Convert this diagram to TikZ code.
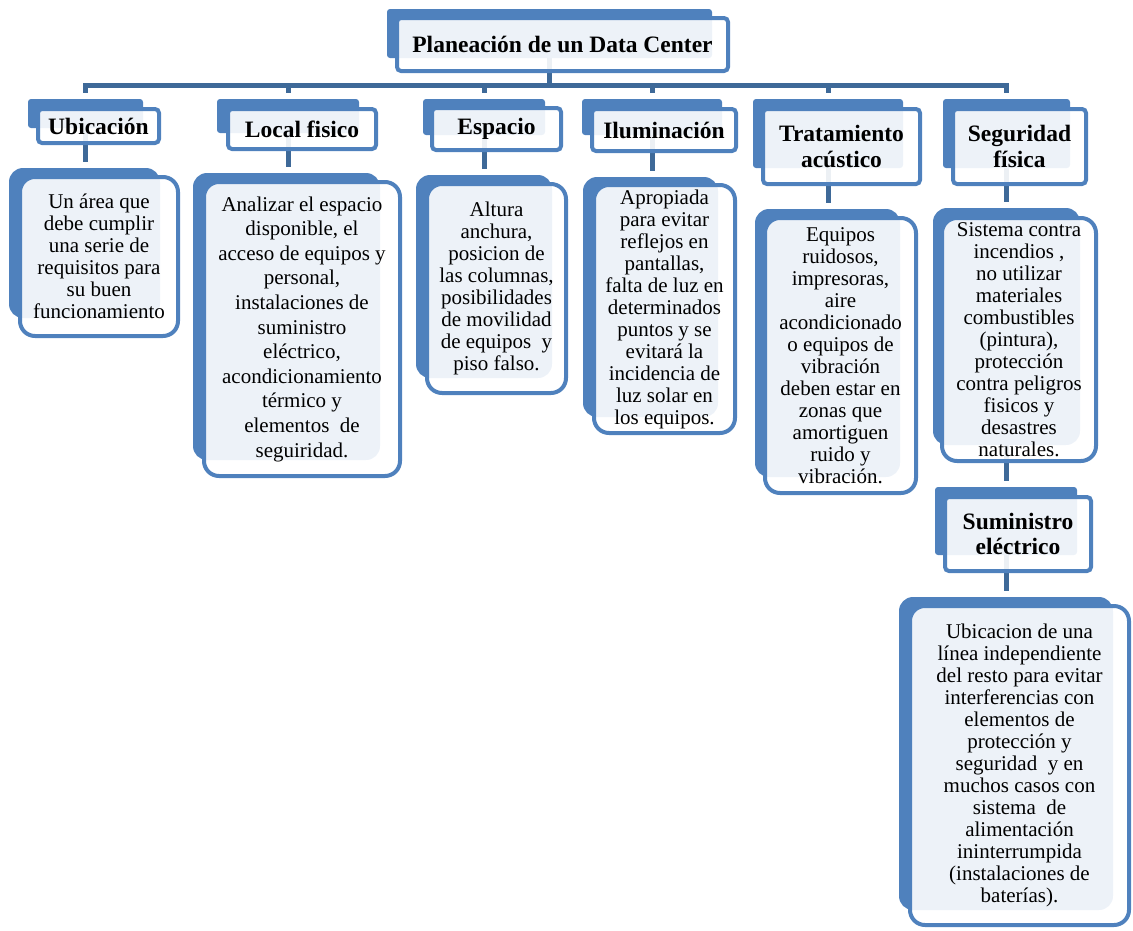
\documentclass[tikz,border=0pt]{standalone}
\usepackage{fontspec}
\setmainfont{Liberation Serif}
\usetikzlibrary{fit}
\definecolor{boxblue}{HTML}{4F81BD}
\definecolor{linkblue}{HTML}{3E6998}
\pgfdeclarelayer{bg}
\pgfsetlayers{bg,main}
\newcommand\headfont{\fontsize{23.5}{25.5}\selectfont\bfseries}
\newcommand\bodyfont{\fontsize{21}{22}\selectfont}

\begin{document}
\begin{tikzpicture}[x=1pt,y=-1pt,
  hback/.style={inner sep=0pt, outer sep=0pt, fill=boxblue, draw=none, rounded corners=3pt},
  hfront/.style={inner sep=0pt, outer sep=0pt, draw=boxblue, line width=4pt,
                 fill=white, fill opacity=0.9, text opacity=1, rounded corners=4pt},
  cback/.style={inner sep=0pt, outer sep=0pt, fill=boxblue, draw=none, rounded corners=14pt},
  cfront/.style={inner sep=0pt, outer sep=0pt, draw=boxblue, line width=4pt,
                 fill=white, fill opacity=0.9, text opacity=1, rounded corners=15pt},
  htext/.style={font=\headfont, align=center, inner sep=0pt},
  btext/.style={font=\bodyfont, align=center, inner sep=0pt},
  link/.style={draw=linkblue, line width=5pt, shorten >=6pt}]
\useasboundingbox (0,0) rectangle (1133,930);

% root
\node[hback, fit={(387,9) (712,58)}] (title-b) {};
\node[hfront, fit={(397,18) (728,71)}] (title) {};
\node[htext] (title-t) at (title.center) {Planeación de un Data Center};

% Ubicación
\node[hback, fit={(28,99) (143,128)}] (ubi-b) {};
\node[hfront, fit={(38,109) (159,143)}] (ubi) {};
\node[htext] (ubi-t) at (ubi.center) {Ubicación};
\node[cback, fit={(9,168) (160,318)}] (ubic-b) {};
\node[cfront, fit={(20,177) (178,336)}] (ubic) {};
\node[btext] (ubic-t) at (ubic.center) {Un área que\\debe cumplir\\una serie de\\requisitos para\\su buen\\funcionamiento};

% Local fisico
\node[hback, fit={(217,99) (359,133)}] (loc-b) {};
\node[hfront, fit={(228,109) (376,149)}] (loc) {};
\node[htext] (loc-t) at (loc.center) {Local fisico};
\node[cback, fit={(193,173) (380,460)}] (locc-b) {};
\node[cfront, fit={(204,182) (400,476)}] (locc) {};
\node[btext, font=\fontsize{21}{24.6}\selectfont] (locc-t) at (locc.center)
  {Analizar el espacio\\disponible, el\\acceso de equipos y\\personal,\\instalaciones de\\suministro\\eléctrico,\\acondicionamiento\\térmico y\\elementos~ de\\seguiridad.};

% Espacio
\node[hback, fit={(423,99) (545,135)}] (esp-b) {};
\node[hfront, fit={(432,108) (561,150)}] (esp) {};
\node[htext] (esp-t) at (esp.center) {Espacio};
\node[cback, fit={(416,175) (552,378)}] (espc-b) {};
\node[cfront, fit={(427,184) (566,393)}] (espc) {};
\node[btext] (espc-t) at (espc.center)
  {Altura\\anchura,\\posicion de\\las columnas,\\posibilidades\\de movilidad\\de equipos~ y\\piso falso.};

% Iluminación
\node[hback, fit={(582,99) (722,135)}] (ilu-b) {};
\node[hfront, fit={(592,109) (736,151)}] (ilu) {};
\node[htext] (ilu-t) at (ilu.center) {Iluminación};
\node[cback, fit={(583,177) (718,417)}] (iluc-b) {};
\node[cfront, fit={(594,185) (735,433)}] (iluc) {};
\node[btext] (iluc-t) at (iluc.center)
  {Apropiada\\para evitar\\reflejos en\\pantallas,\\falta de luz en\\determinados\\puntos y se\\evitará la\\incidencia de\\luz solar en\\los equipos.};

% Tratamiento acústico
\node[hback, fit={(753,99) (903,168)}] (tra-b) {};
\node[hfront, fit={(763,109) (920,184)}] (tra) {};
\node[htext] (tra-t) at (tra.center) {Tratamiento\\acústico};
\node[cback, fit={(755,209) (900,477)}] (trac-b) {};
\node[cfront, fit={(765,218) (916,493)}] (trac) {};
\node[btext] (trac-t) at (trac.center)
  {Equipos\\ruidosos,\\impresoras,\\aire\\acondicionado\\o equipos de\\vibración\\deben estar en\\zonas que\\amortiguen\\ruido y\\vibración.};

% Seguridad física
\node[hback, fit={(943,99) (1070,168)}] (seg-b) {};
\node[hfront, fit={(953,109) (1086,184)}] (seg) {};
\node[htext] (seg-t) at (seg.center) {Seguridad\\física};
\node[cback, fit={(933,208) (1080,445)}] (segc-b) {};
\node[cfront, fit={(942,218) (1096,461)}] (segc) {};
\node[btext] (segc-t) at (segc.center)
  {Sistema contra\\incendios ,\\no utilizar\\materiales\\combustibles\\(pintura),\\protección\\contra peligros\\fisicos y\\desastres\\naturales.};

% Suministro eléctrico
\node[hback, fit={(935,487) (1077,555)}] (sum-b) {};
\node[hfront, fit={(945,497) (1091,571)}] (sum) {};
\node[htext] (sum-t) at (sum.center) {Suministro\\eléctrico};
\node[cback, fit={(899,597) (1113,910)}] (sumc-b) {};
\node[cfront, fit={(910,606) (1129,925)}] (sumc) {};
\node[btext] (sumc-t) at (sumc.center)
  {Ubicacion de una\\línea independiente\\del resto para evitar\\interferencias con\\elementos de\\protección y\\seguridad~ y en\\muchos casos con\\sistema~ de\\alimentación\\ininterrumpida\\(instalaciones de\\baterías).};

% connectors, kept behind the boxes
\coordinate (bus) at (549,85);
\begin{pgfonlayer}{bg}
  \foreach \h in {ubi,loc,esp,ilu,tra,seg}
    \draw[link] (title-b.south) -- (title-b.south |- bus) -| (\h-b.north);
  \foreach \h in {ubi,loc,esp,ilu,tra,seg,sum}
    \draw[link] (\h-b.south) -- (\h-b.south |- \h c-b.north);
  \draw[link] (segc-b.south) -- (segc-b.south |- sum-b.north);
\end{pgfonlayer}
\end{tikzpicture}
\end{document}
